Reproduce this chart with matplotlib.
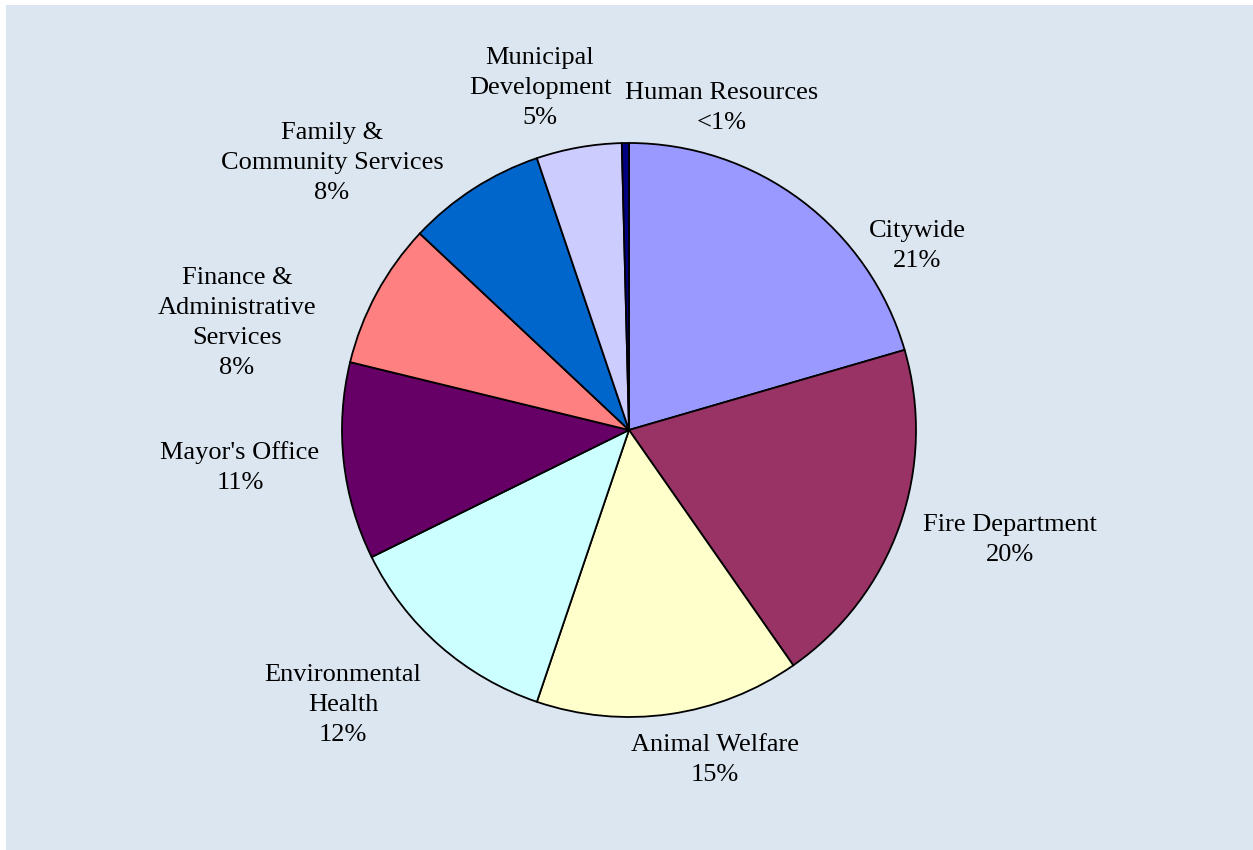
import matplotlib.pyplot as plt
from matplotlib.patches import Rectangle

# departmental share of the budget, clockwise from 12 o'clock
departments = ["Citywide", "Fire Department", "Animal Welfare",
               "Environmental\nHealth", "Mayor's Office",
               "Finance &\nAdministrative\nServices",
               "Family &\nCommunity Services",
               "Municipal\nDevelopment", "Human Resources"]
shares = [20.5, 19.8, 14.9, 12.5, 11.1, 8.2, 7.8, 4.8, 0.4]
share_labels = ["21%", "20%", "15%", "12%", "11%", "8%", "8%", "5%", "<1%"]
colors = ["#9999FF", "#993366", "#FFFFCC", "#CCFFFF", "#660066",
          "#FF8080", "#0066CC", "#CCCCFF", "#000080"]

# label centres in pixels (x from left, y from top)
label_pos = [(917, 246), (1010, 540), (715, 760), (343, 705), (240, 468),
             (237, 323), (332, 163), (540, 88), (722, 108)]

W, H = 1253, 850
fig = plt.figure(figsize=(W / 100, H / 100), dpi=100)
fig.patch.set_facecolor("white")
ax = fig.add_axes([0, 0, 1, 1])

ax.add_patch(Rectangle((6, -10), W, H + 5, facecolor="#DCE6F1",
                       edgecolor="none", zorder=0, clip_on=False))

ax.pie(shares, colors=colors, startangle=90, counterclock=False,
       center=(629, H - 430), radius=287, frame=True,
       wedgeprops=dict(edgecolor="black", linewidth=1.3))
ax.set_xlim(0, W)
ax.set_ylim(0, H)
ax.set_aspect("equal")
ax.axis("off")

for name, pct, (x, y) in zip(departments, share_labels, label_pos):
    ax.text(x, H - y, f"{name}\n{pct}", ha="center", va="center",
            fontsize=19, family="Liberation Serif", linespacing=1.47,
            color="black")

fig.savefig("out.png", dpi=100)
